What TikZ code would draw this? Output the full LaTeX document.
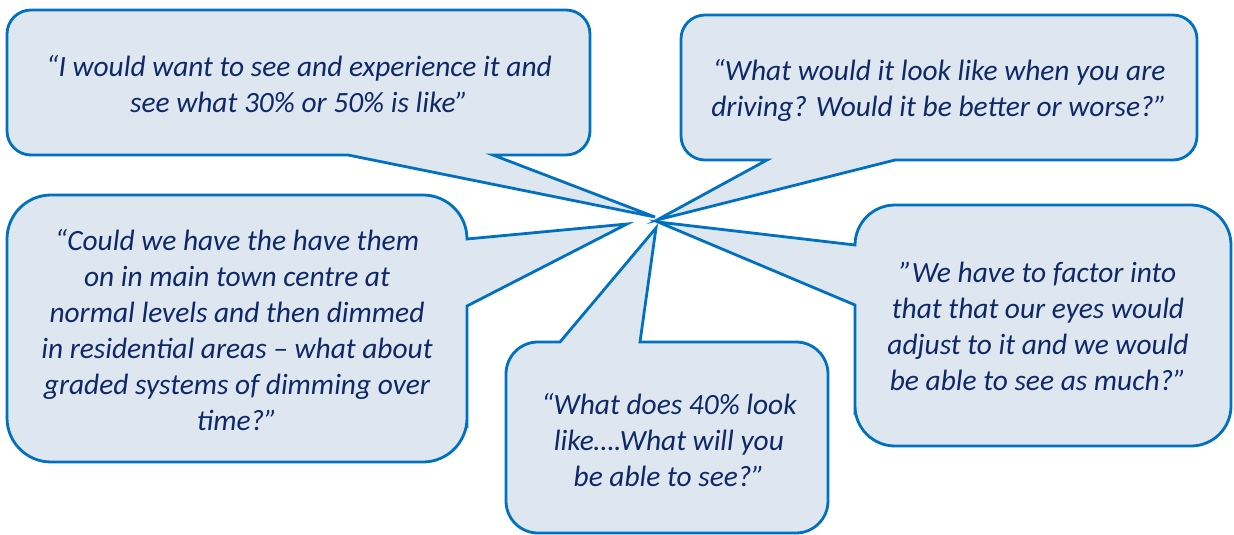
\documentclass[tikz,border=0pt]{standalone}
\usepackage{fontspec}
\setmainfont{Carlito}

\definecolor{bubbleline}{RGB}{0,112,192}
\definecolor{bubblefill}{RGB}{222,230,239}
\definecolor{quoteink}{RGB}{14,40,104}

\begin{document}
\begin{tikzpicture}[x=1pt, y=-1pt,
    bubble/.style={fill=bubblefill, draw=bubbleline, line width=2.8pt, line join=miter},
    quote/.style={align=center, text=quoteink, inner sep=0pt,
        font=\fontsize{29.4}{36}\selectfont\itshape}]

    \useasboundingbox (0,0) rectangle (1234,535);

    % ── Top left bubble ───────────────────────────────────────────────────────
    \filldraw[bubble, rounded corners=24]
        (348,155) -- (7,155) -- (7,10) -- (590,10) -- (590,155) -- (541,155)
        [sharp corners] -- (493,155) -- (655,217) -- cycle;

    % ── Top right bubble ──────────────────────────────────────────────────────
    \filldraw[bubble, rounded corners=24]
        (767,160) -- (681,160) -- (681,15) -- (1197,15) -- (1197,160) -- (1046,160)
        [sharp corners] -- (895,160) -- (657,220) -- cycle;

    % ── Left bubble ───────────────────────────────────────────────────────────
    \filldraw[bubble, rounded corners=44]
        (467,239) -- (467,195) -- (7,195) -- (7,462) -- (467,462) -- (467,384)
        [sharp corners] -- (467,306) -- (627,224) -- cycle;

    % ── Right bubble ──────────────────────────────────────────────────────────
    \filldraw[bubble, rounded corners=40]
        (855,245) -- (855,205) -- (1231,205) -- (1231,446) -- (855,446) -- (855,375)
        [sharp corners] -- (855,305) -- (658,222) -- cycle;

    % ── Bottom bubble ─────────────────────────────────────────────────────────
    \filldraw[bubble, rounded corners=32]
        (560,342) -- (506,342) -- (506,533) -- (828,533) -- (828,342) -- (734,342)
        [sharp corners] -- (640,342) -- (656,228) -- cycle;

    % ── Quotes ────────────────────────────────────────────────────────────────
    \node[quote] (qsee) at (299,84)
        {“I would want to see and experience it and\\see what 30\% or 50\% is like”};
    \node[quote] (qdrive) at (939,90)
        {“What would it look like when you are\\driving? Would it be better or worse?”};
    \node[quote] (qtown) at (237,330)
        {“Could we have the have them\\on in main town centre at\\normal levels and then dimmed\\in residential areas – what about\\graded systems of dimming over\\time?”};
    \node[quote] (qeyes) at (1038,326)
        {”We have to factor into\\that that our eyes would\\adjust to it and we would\\be able to see as much?”};
    \node[quote] (qforty) at (669,440)
        {“What does 40\% look\\like….What will you\\be able to see?”};

\end{tikzpicture}
\end{document}
